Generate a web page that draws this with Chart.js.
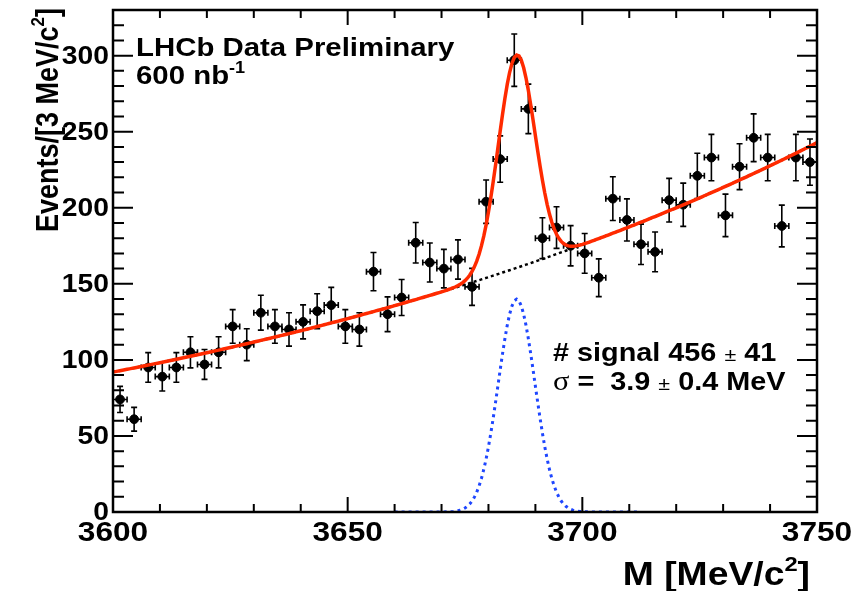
<!DOCTYPE html>
<html>
<head>
<meta charset="utf-8">
<script src="https://cdn.jsdelivr.net/npm/chart.js@4.4.1/dist/chart.umd.min.js"></script>
<style>
  html, body { margin: 0; padding: 0; background: #fff; }
  #massChart { display: block; }
</style>
</head>
<body>
<canvas id="massChart" width="856" height="591"></canvas>
<script>
// Bin centres (3 MeV bins from 3600 to 3750) and event counts per bin
const binCenters = [
    3601.5, 3604.5, 3607.5, 3610.5, 3613.5, 3616.5, 3619.5, 3622.5, 3625.5, 3628.5,
    3631.5, 3634.5, 3637.5, 3640.5, 3643.5, 3646.5, 3649.5, 3652.5, 3655.5, 3658.5,
    3661.5, 3664.5, 3667.5, 3670.5, 3673.5, 3676.5, 3679.5, 3682.5, 3685.5, 3688.5,
    3691.5, 3694.5, 3697.5, 3700.5, 3703.5, 3706.5, 3709.5, 3712.5, 3715.5, 3718.5,
    3721.5, 3724.5, 3727.5, 3730.5, 3733.5, 3736.5, 3739.5, 3742.5, 3745.5, 3748.5
];
const eventCounts = [
    74, 61, 95, 89, 95, 105, 97, 105, 122, 110,
    131, 122, 120, 125, 132, 136, 122, 120, 158, 130,
    141, 177, 164, 160, 166, 148, 204, 232, 297, 265,
    180, 187, 175, 170, 154, 206, 192, 176, 171, 205,
    202, 221, 233, 195, 227, 246, 233, 188, 233, 230
];
const binWidth = 3;

// Fit result: gaussian signal on an exponential background
const signalYield = 456;
const signalYieldErr = 41;
const signalSigma = 3.9;
const signalSigmaErr = 0.4;
const signalMean = 3686.0;
const bkgAt3600 = 92;
const bkgSlope = 0.00647;

const xTicks = [3600, 3650, 3700, 3750];
const yTicks = [0, 50, 100, 150, 200, 250, 300];
const xRange = [3600, 3750];
const yRange = [0, 330];

function background(m) {
    return bkgAt3600 * Math.exp(bkgSlope * (m - 3600));
}
function signal(m) {
    const z = (m - signalMean) / signalSigma;
    return signalYield * binWidth / (Math.sqrt(2 * Math.PI) * signalSigma) * Math.exp(-0.5 * z * z);
}

// Sample the fitted curves every 0.5 MeV
const curveX = [];
for (let m = xRange[0]; m <= xRange[1]; m += 0.5) curveX.push(m);
const totalCurve = curveX.map(m => ({x: m, y: background(m) + signal(m)}));
const bkgCurve = curveX.map(m => ({x: m, y: background(m)}));
const sigCurve = curveX.filter(m => m >= 3660 && m <= 3712).map(m => ({x: m, y: signal(m)}));

const dataPoints = binCenters.map((m, i) => ({x: m, y: eventCounts[i]}));

const FAMILY = '"Liberation Sans", Arial, Helvetica, sans-serif';
const STRETCH = 1.13;   // text is drawn a little wide, like the old PostScript output

function bold(size) { return 'bold ' + size + 'px ' + FAMILY; }

function plainWidth(ctx, pieces) {
    let w = 0;
    pieces.forEach(p => { ctx.font = p.font; w += ctx.measureText(p.text).width; });
    return w;
}
function richWidth(ctx, pieces) {
    return plainWidth(ctx, pieces) * STRETCH;
}
// Draws a run of text pieces starting at (x, y); dy raises superscripts
function drawRich(ctx, x, y, pieces) {
    ctx.save();
    ctx.translate(x, y);
    ctx.scale(STRETCH, 1);
    let cx = 0;
    pieces.forEach(p => {
        ctx.font = p.font;
        ctx.fillText(p.text, cx, p.dy || 0);
        cx += ctx.measureText(p.text).width;
    });
    ctx.restore();
}

const errorBars = {
    id: 'errorBars',
    beforeDatasetsDraw(chart) {
        const ctx = chart.ctx;
        const xs = chart.scales.x, ys = chart.scales.y;
        ctx.save();
        ctx.strokeStyle = '#000';
        ctx.lineWidth = 1.6;
        dataPoints.forEach(p => {
            const err = Math.sqrt(p.y);
            const px = xs.getPixelForValue(p.x);
            const py = ys.getPixelForValue(p.y);
            const top = ys.getPixelForValue(p.y + err);
            const bot = ys.getPixelForValue(p.y - err);
            const l = xs.getPixelForValue(p.x - binWidth / 2);
            const r = xs.getPixelForValue(p.x + binWidth / 2);
            ctx.beginPath();
            ctx.moveTo(px, top); ctx.lineTo(px, bot);
            ctx.moveTo(px - 3, top); ctx.lineTo(px + 3, top);
            ctx.moveTo(px - 3, bot); ctx.lineTo(px + 3, bot);
            ctx.moveTo(l, py); ctx.lineTo(r, py);
            ctx.moveTo(l, py - 3); ctx.lineTo(l, py + 3);
            ctx.moveTo(r, py - 3); ctx.lineTo(r, py + 3);
            ctx.stroke();
        });
        ctx.restore();
    }
};

const frameAndText = {
    id: 'frameAndText',
    afterDatasetsDraw(chart) {
        const ctx = chart.ctx;
        const xs = chart.scales.x, ys = chart.scales.y;
        const a = chart.chartArea;
        ctx.save();
        ctx.strokeStyle = '#000';
        ctx.lineWidth = 2.5;
        ctx.strokeRect(a.left, a.top, a.right - a.left, a.bottom - a.top);

        // inward ticks on all four sides
        ctx.lineWidth = 2;
        ctx.beginPath();
        for (let m = xRange[0]; m <= xRange[1]; m += 10) {
            const px = xs.getPixelForValue(m);
            const len = (m % 50 === 0) ? 15 : 8;
            ctx.moveTo(px, a.bottom); ctx.lineTo(px, a.bottom - len);
            ctx.moveTo(px, a.top); ctx.lineTo(px, a.top + len);
        }
        for (let v = yRange[0]; v <= yRange[1]; v += 10) {
            const py = ys.getPixelForValue(v);
            const len = (v % 50 === 0) ? 20 : 11;
            ctx.moveTo(a.left, py); ctx.lineTo(a.left + len, py);
            ctx.moveTo(a.right, py); ctx.lineTo(a.right - len, py);
        }
        ctx.stroke();

        ctx.fillStyle = '#000';
        ctx.textBaseline = 'alphabetic';
        ctx.textAlign = 'left';

        // tick labels
        xTicks.forEach(v => {
            const t = [{text: String(v), font: bold(28)}];
            drawRich(ctx, xs.getPixelForValue(v) - richWidth(ctx, t) / 2, 541, t);
        });
        yTicks.forEach(v => {
            const t = [{text: String(v), font: bold(25)}];
            drawRich(ctx, a.left - 4 - richWidth(ctx, t), ys.getPixelForValue(v) + 8, t);
        });

        // experiment label
        drawRich(ctx, 136, 56, [{text: 'LHCb Data Preliminary', font: bold(26)}]);
        drawRich(ctx, 136, 84, [
            {text: '600 nb', font: bold(26)},
            {text: '-1', font: bold(16), dy: -11}
        ]);

        // fit results
        const pm = '19px ' + FAMILY;
        drawRich(ctx, 553, 361, [
            {text: '# signal ' + signalYield + ' ', font: bold(25.5)},
            {text: '\u00b1', font: pm},
            {text: ' ' + signalYieldErr, font: bold(25.5)}
        ]);
        drawRich(ctx, 553, 390, [
            {text: '\u03c3', font: '27px "Liberation Serif", "Times New Roman", serif'},
            {text: ' =  ' + signalSigma.toFixed(1) + ' ', font: bold(25.5)},
            {text: '\u00b1', font: pm},
            {text: ' ' + signalSigmaErr.toFixed(1) + ' MeV', font: bold(25.5)}
        ]);

        // x axis title, right aligned
        const xTitle = [
            {text: 'M [MeV/c', font: bold(33)},
            {text: '2', font: bold(21), dy: -14},
            {text: ']', font: bold(33)}
        ];
        drawRich(ctx, 810 - richWidth(ctx, xTitle), 585, xTitle);

        // y axis title, rotated, ending at the top of the frame
        const yTitle = [
            {text: 'Events/[3 MeV/c', font: bold(27)},
            {text: '2', font: bold(17), dy: -12},
            {text: ']', font: bold(27)}
        ];
        ctx.translate(58, 8);
        ctx.rotate(-Math.PI / 2);
        ctx.scale(1, STRETCH);
        let px = -plainWidth(ctx, yTitle);
        yTitle.forEach(p => {
            ctx.font = p.font;
            ctx.fillText(p.text, px, p.dy || 0);
            px += ctx.measureText(p.text).width;
        });
        ctx.restore();
    }
};

const ctx = document.getElementById('massChart').getContext('2d');
const massChart = new Chart(ctx, {
    type: 'scatter',
    data: {
        datasets: [
            {
                label: 'fit',
                type: 'line',
                data: totalCurve,
                borderColor: '#ff2a00',
                borderWidth: 3.5,
                pointRadius: 0,
                tension: 0,
                order: 0
            },
            {
                label: 'signal',
                type: 'line',
                data: sigCurve,
                borderColor: '#1e46ff',
                borderWidth: 3,
                borderDash: [3, 4],
                pointRadius: 0,
                tension: 0,
                order: 1
            },
            {
                label: 'background',
                type: 'line',
                data: bkgCurve,
                borderColor: '#000',
                borderWidth: 2.5,
                borderDash: [3, 3],
                pointRadius: 0,
                tension: 0,
                order: 2
            },
            {
                label: 'data',
                data: dataPoints,
                backgroundColor: '#000',
                borderColor: '#000',
                pointRadius: 4.4,
                order: 3
            }
        ]
    },
    options: {
        responsive: false,
        devicePixelRatio: 1,
        animation: false,
        layout: { padding: { top: 10, right: 39, left: 0, bottom: 0 } },
        plugins: {
            legend: { display: false },
            tooltip: { enabled: false }
        },
        scales: {
            x: {
                type: 'linear',
                min: xRange[0],
                max: xRange[1],
                grid: { display: false },
                border: { display: false },
                ticks: { display: false },
                afterFit: s => { s.height = 79; }
            },
            y: {
                type: 'linear',
                min: yRange[0],
                max: yRange[1],
                grid: { display: false },
                border: { display: false },
                ticks: { display: false },
                afterFit: s => { s.width = 113; }
            }
        }
    },
    plugins: [errorBars, frameAndText]
});
</script>
</body>
</html>
